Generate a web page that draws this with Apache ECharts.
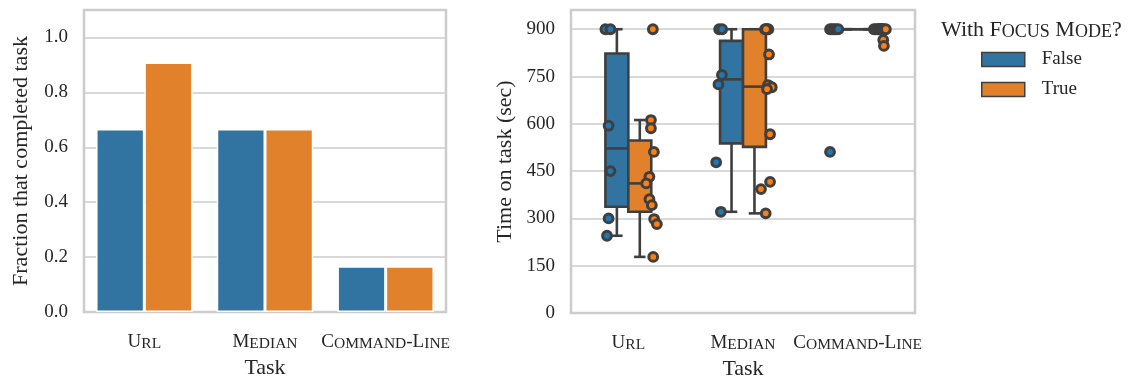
<!DOCTYPE html>
<html>
<head>
<meta charset="utf-8">
<script src="https://cdn.jsdelivr.net/npm/echarts@6/dist/echarts.min.js"></script>
<style>
html,body{margin:0;padding:0;background:#fff;}
#chart{width:1132px;height:379px;}
</style>
</head>
<body>
<div id="chart"></div>
<script>
// ---------- data ----------
const tasks = ['Url', 'Median', 'Command-Line'];
const hues = ['False', 'True'];
const completedFalse = [0.667, 0.667, 0.167];
const completedTrue = [0.909, 0.667, 0.167];

// time on task (sec), per task, per hue (strip points)
const timeUrlFalse = [900, 900, 594, 450, 300, 245];
const timeUrlTrue = [900, 612, 586, 511, 432, 411, 361, 342, 298, 282, 178];
const timeMedianFalse = [900, 900, 755, 725, 478, 321];
const timeMedianTrue = [900, 900, 900, 900, 820, 723, 716, 710, 567, 416, 393, 316];
const timeCmdFalse = [900, 900, 900, 900, 900, 511];
const timeCmdTrue = [900, 900, 900, 900, 900, 900, 900, 900, 900, 900, 866, 847];

// horizontal jitter of strip points (fraction of category band)
const jitUrlFalse = [0, .044, .028, .044, .028, .014];
const jitUrlTrue = [.014, -.003, -.003, .023, -.016, -.044, -.016, .005, .025, .049, .017];
const jitMedianFalse = [-.008, .018, .016, -.014, -.034, .007];
const jitMedianTrue = [-.008, .010, .021, .001, .027, .018, .051, .010, .036, .036, -.043, -.002];
const jitCmdFalse = [-.041, -.024, -.006, .011, .031, -.041];
const jitCmdTrue = [-.058, -.041, -.024, -.015, -.006, .003, .011, .020, .029, .046, .023, .029];

// box statistics [low whisker, Q1, median, Q3, high whisker]
const boxFalse = [[245, 337, 522, 823, 900], [321, 538, 741, 863, 900], [900, 900, 900, 900, 900]];
const boxTrue = [[178, 321, 411, 547, 612], [316, 527, 718, 900, 900], [900, 900, 900, 900, 900]];

const yTicksLeft = [0, 0.2, 0.4, 0.6, 0.8, 1.0];
const yTicksRight = [0, 150, 300, 450, 600, 750, 900];

// ---------- style ----------
const FONT = 'Liberation Serif';
const TXT = '#262626';
const GRIDC = '#cccccc';
const EDGE = '#3f3f3f';
const barColors = ['#3274a1', '#e1812c'];
const dotColors = ['#1f77b4', '#ff7f0e'];

function sc(str) {
  let out = '';
  for (const ch of str) {
    if (/[a-z]/.test(ch)) out += '{s|' + ch.toUpperCase() + '}';
    else out += '{b|' + ch + '}';
  }
  return out;
}
function richSC(big, small) {
  return {
    b: {fontSize: big, fontFamily: FONT, fontWeight: 'normal', color: TXT, verticalAlign: 'bottom'},
    s: {fontSize: small, fontFamily: FONT, fontWeight: 'normal', color: TXT, verticalAlign: 'bottom'}
  };
}

function stripData(vals, jit, cat) {
  return vals.map((v, i) => [cat, v, jit[i]]);
}
const stripFalse = [].concat(
  stripData(timeUrlFalse, jitUrlFalse, 0),
  stripData(timeMedianFalse, jitMedianFalse, 1),
  stripData(timeCmdFalse, jitCmdFalse, 2));
const stripTrue = [].concat(
  stripData(timeUrlTrue, jitUrlTrue, 0),
  stripData(timeMedianTrue, jitMedianTrue, 1),
  stripData(timeCmdTrue, jitCmdTrue, 2));

function boxRender(hueOff, fill) {
  return function (params, api) {
    const cat = api.value(0);
    const band = api.size([1, 0])[0];
    const cx = api.coord([cat, 0])[0] + hueOff * band;
    const w = 0.2 * band;
    const y = k => api.coord([cat, api.value(k)])[1];
    const yl = y(1), yq1 = y(2), ym = y(3), yq3 = y(4), yh = y(5);
    const ls = {stroke: EDGE, lineWidth: 2.6, lineCap: 'butt'};
    return {
      type: 'group',
      children: [
        {type: 'line', shape: {x1: cx, y1: yq1, x2: cx, y2: yl}, style: ls},
        {type: 'line', shape: {x1: cx, y1: yq3, x2: cx, y2: yh}, style: ls},
        {type: 'line', shape: {x1: cx - w / 4, y1: yl, x2: cx + w / 4, y2: yl}, style: ls},
        {type: 'line', shape: {x1: cx - w / 4, y1: yh, x2: cx + w / 4, y2: yh}, style: ls},
        {type: 'rect', shape: {x: cx - w / 2, y: yq3, width: w, height: yq1 - yq3},
          style: {fill: fill, stroke: EDGE, lineWidth: 2.6}},
        {type: 'line', shape: {x1: cx - w / 2, y1: ym, x2: cx + w / 2, y2: ym}, style: ls}
      ]
    };
  };
}
function stripRender(hueOff, fill) {
  return function (params, api) {
    const cat = api.value(0);
    const band = api.size([1, 0])[0];
    const p = api.coord([cat, api.value(1)]);
    const cx = p[0] + (hueOff + api.value(2)) * band;
    return {type: 'circle', shape: {cx: cx, cy: p[1], r: 4.4},
      style: {fill: fill, stroke: EDGE, lineWidth: 3}};
  };
}

const chart = echarts.init(document.getElementById('chart'), null, {renderer: 'canvas'});
const option = {
  animation: false,
  backgroundColor: '#fff',
  title: {
    text: '{b|With }' + sc('Focus Mode') + '{b|?}',
    left: 941, top: 19, padding: 0,
    textStyle: {fontWeight: 'normal', rich: richSC(22, 18)}
  },
  legend: {
    data: hues,
    orient: 'vertical',
    left: 981, top: 50, padding: 0,
    itemWidth: 43, itemHeight: 14, itemGap: 11,
    icon: 'rect',
    itemStyle: {borderColor: EDGE, borderWidth: 1.5},
    textStyle: {fontFamily: FONT, fontSize: 19, color: TXT, padding: [0, 0, 0, 12]}
  },
  grid: [
    {left: 84, top: 10, width: 362, height: 302, show: true, borderColor: GRIDC, borderWidth: 2.5,
      containLabel: false, outerBoundsMode: 'none'},
    {left: 571, top: 10, width: 344, height: 303, show: true, borderColor: GRIDC, borderWidth: 2.5,
      containLabel: false, outerBoundsMode: 'none'}
  ],
  xAxis: [0, 1].map(g => ({
    type: 'category', gridIndex: g, data: tasks,
    axisLine: {show: false}, axisTick: {show: false},
    axisLabel: {margin: 21, interval: 0, hideOverlap: false, formatter: v => sc(v), rich: richSC(19, 15.5)},
    splitLine: {show: false},
    name: 'Task', nameLocation: 'middle', nameGap: 45,
    nameTextStyle: {fontFamily: FONT, fontSize: 22, color: TXT}
  })),
  yAxis: [
    {
      type: 'value', gridIndex: 0, min: 0, max: 1.1, interval: 0.2,
      axisLine: {show: false}, axisTick: {show: false},
      axisLabel: {margin: 16, fontFamily: FONT, fontSize: 19, color: TXT, padding: [5, 0, 0, 0],
        formatter: v => (yTicksLeft.some(t => Math.abs(t - v) < 1e-6) ? v.toFixed(1) : '')},
      splitLine: {lineStyle: {color: GRIDC, width: 1.5}},
      name: 'Fraction that completed task', nameLocation: 'middle', nameGap: 52,
      nameTextStyle: {fontFamily: FONT, fontSize: 22, color: TXT}
    },
    {
      type: 'value', gridIndex: 1, min: 0, max: 961, interval: 150,
      axisLine: {show: false}, axisTick: {show: false},
      axisLabel: {margin: 16, fontFamily: FONT, fontSize: 19, color: TXT, padding: [5, 0, 0, 0],
        formatter: v => (yTicksRight.indexOf(v) >= 0 ? String(v) : '')},
      splitLine: {lineStyle: {color: GRIDC, width: 1.5}},
      name: 'Time on task (sec)', nameLocation: 'middle', nameGap: 55,
      nameTextStyle: {fontFamily: FONT, fontSize: 22, color: TXT}
    }
  ],
  series: [
    {name: 'False', type: 'bar', xAxisIndex: 0, yAxisIndex: 0, data: completedFalse,
      barWidth: '40%', barGap: '0%',
      itemStyle: {color: barColors[0], borderColor: '#fff', borderWidth: 1.5}},
    {name: 'True', type: 'bar', xAxisIndex: 0, yAxisIndex: 0, data: completedTrue,
      barWidth: '40%', barGap: '0%',
      itemStyle: {color: barColors[1], borderColor: '#fff', borderWidth: 1.5}},
    {name: 'box-False', type: 'custom', xAxisIndex: 1, yAxisIndex: 1, z: 2,
      data: boxFalse.map((b, i) => [i].concat(b)), encode: {x: 0, y: [1, 2, 3, 4, 5]},
      renderItem: boxRender(-0.1, barColors[0])},
    {name: 'box-True', type: 'custom', xAxisIndex: 1, yAxisIndex: 1, z: 2,
      data: boxTrue.map((b, i) => [i].concat(b)), encode: {x: 0, y: [1, 2, 3, 4, 5]},
      renderItem: boxRender(0.1, barColors[1])},
    {name: 'strip-False', type: 'custom', xAxisIndex: 1, yAxisIndex: 1, z: 3,
      data: stripFalse, encode: {x: 0, y: 1}, renderItem: stripRender(-0.2, dotColors[0])},
    {name: 'strip-True', type: 'custom', xAxisIndex: 1, yAxisIndex: 1, z: 3,
      data: stripTrue, encode: {x: 0, y: 1}, renderItem: stripRender(0.2, dotColors[1])}
  ]
};
chart.setOption(option);
</script>
</body>
</html>
